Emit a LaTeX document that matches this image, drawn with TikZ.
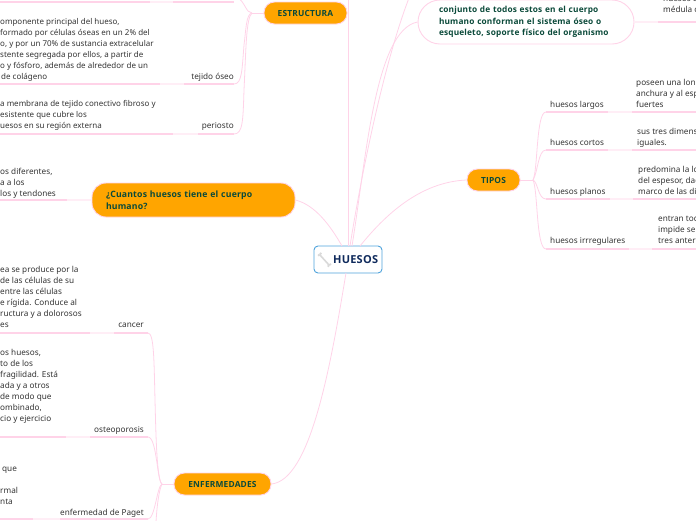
\documentclass[tikz,border=0pt]{standalone}
\usepackage{fontspec}
\setmainfont{Noto Sans}
\newfontfamily\negrita{Open Sans}[BoldFeatures={LetterSpace=2}]
\definecolor{rosa}{HTML}{FFD3E8}
\definecolor{rosaclaro}{HTML}{FFEEF6}
\definecolor{naranja}{HTML}{FFA500}
\definecolor{verdeosc}{HTML}{0B4A3A}
\definecolor{azulosc}{HTML}{0F2A5C}
\definecolor{azulborde}{HTML}{4FA3DC}
\definecolor{gristxt}{HTML}{333333}
\tikzset{
  rama/.style={rosa,line width=0.8pt},
  raya/.style={rosa,line width=1.6pt},
  rayaclara/.style={rosaclaro,line width=1.6pt},
  tema/.style={draw=rosa,fill=naranja,rounded corners=10.5pt,line width=0.9pt,minimum height=22pt,inner sep=0pt,text=verdeosc,font=\fontsize{8.4}{11.5}\selectfont\negrita\bfseries},
  texto/.style={inner sep=0pt,text depth=0pt,anchor=south west,align=left,yshift=-0.8pt,text=gristxt,font=\fontsize{8.2}{11}\selectfont},
  textochico/.style={texto,font=\fontsize{8}{11}\selectfont},
  etiqueta/.style={inner sep=0pt,text depth=0pt,anchor=south east,yshift=-0.8pt,text=gristxt,font=\fontsize{8.2}{11}\selectfont},
  etiquetaizq/.style={etiqueta,anchor=south west},
}
\begin{document}
\begin{tikzpicture}[x=1pt,y=-1pt]
  \useasboundingbox (0,0) rectangle (696,520);
  \clip (0,0) rectangle (696,520);
  % nodo central
  \node[draw=azulborde,fill=white,rounded corners=4pt,line width=0.9pt,minimum width=68pt,minimum height=27pt,inner sep=0pt] (huesos) at (348,259.5) {};
  \node[anchor=base west,inner sep=0pt,text=azulosc,font=\fontsize{11}{12}\selectfont\negrita\bfseries] (huesostxt) at (333,263.5) {HUESOS};
  % icono del hueso
  \draw[black!15,line width=1.6pt,line cap=round] (320,255)--(329,265);
  \fill[black!15] (318.8,255.2) circle (1.3) (320.6,253.6) circle (1.3) (328.4,266) circle (1.3) (330.2,264.4) circle (1.3);
  % temas
  \node[tema,minimum width=83pt] (estructura) at (305.5,13) {ESTRUCTURA};
  \node[tema,minimum width=53pt] (tipos) at (493.5,180) {TIPOS};
  \node[tema,minimum width=97pt] (enfermedades) at (222.5,484) {ENFERMEDADES};
  \node[tema,minimum width=203pt,minimum height=34pt,rounded corners=14pt,text width=175pt,align=left,font=\fontsize{8.7}{12}\selectfont\negrita\bfseries] (cuantos) at (193.5,200) {¿Cuantos huesos tiene el cuerpo\\humano?};
  \node[draw=rosa,fill=white,rounded corners=22pt,line width=0.9pt,minimum width=216pt,minimum height=44pt,inner sep=0pt,text width=174pt,align=left,text=verdeosc,font=\fontsize{8.3}{11.5}\selectfont\negrita\bfseries] (conjunto) at (526,22) {conjunto de todos estos en el cuerpo\\humano conforman el sistema óseo o\\esqueleto, soporte físico del organismo};
  % lineas del centro a los temas
  \coordinate (arriba) at (409,-2);
  \coordinate (arribab) at (348,-2);
  \draw[rama] (huesos.north) -- (arribab);
  \draw[rama] (350,246) .. controls (362,170) and (385,60) .. (arriba);
  \draw[rama] (352,246) .. controls (366,160) and (375,30) .. (conjunto.west);
  \draw[rama] (cuantos.east) .. controls (315,205) and (330,225) .. (342,246);
  \draw[rama] (tipos.west) .. controls (420,182) and (385,215) .. (360,246);
  \draw[rama] (enfermedades.east) .. controls (310,480) and (330,370) .. (346,273);
  % estructura
  \coordinate (estr) at (252,13);
  \coordinate (tejfin) at (234,84);
  \coordinate (perfin) at (234,134);
  \draw[rama] (estructura.west) -- (estr);
  \draw[rama] (estr) .. controls (246,13) and (245,2) .. (238,-2);
  \draw[rama] (estr) .. controls (246,14) and (246,30) .. (244,45) .. controls (242,70) and (242,84) .. (tejfin);
  \draw[rama] (estr) .. controls (246,18) and (246,50) .. (244,90) .. controls (243,120) and (243,134) .. (perfin);
  \draw[raya] (0,2) -- (150,2);
  \draw[rayaclara] (150,2) -- (173,2);
  \draw[raya] (173,2) -- (234,2);
  \draw[raya] (0,84) -- (160,84);
  \draw[rayaclara] (160,84) -- (184,84);
  \draw[raya] (184,84) -- (tejfin);
  \draw[raya] (0,134) -- (173,134);
  \draw[rayaclara] (173,134) -- (198,134);
  \draw[raya] (198,134) -- (perfin);
  \node[textochico] (teloseo) at (0,79) {omponente principal del hueso,\\formado por células óseas en un 2\% del\\o, y por un 70\% de sustancia extracelular\\stente segregada por ellos, a partir de\\o y fósforo, además de alrededor de un\\\hspace*{1pt}de colágeno};
  \node[etiqueta] (tejido) at (234,79) {tejido óseo};
  \node[textochico] (telperi) at (0,128) {a membrana de tejido conectivo fibroso y\\esistente que cubre los\\uesos en su región externa};
  \node[etiqueta] (periosto) at (234,128) {periosto};
  % cuantos
  \coordinate (cuanfin) at (67,200);
  \draw[raya] (0,200) -- (cuanfin);
  \draw[rayaclara] (cuanfin) -- (cuantos.west);
  \node[texto] (telcuan) at (0,196) {os diferentes,\\a a los\\los y tendones};
  % tipos
  \coordinate (tip) at (533,180);
  \draw[rama] (tipos.east) -- (tip);
  \coordinate (larini) at (546,112);
  \coordinate (corini) at (546,150);
  \coordinate (plaini) at (546,199);
  \coordinate (irrini) at (546,249);
  \draw[rama] (tip) .. controls (538,170) and (536,112) .. (larini);
  \draw[rama] (tip) .. controls (538,172) and (538,150) .. (corini);
  \draw[rama] (tip) .. controls (538,182) and (538,199) .. (plaini);
  \draw[rama] (tip) .. controls (538,190) and (536,249) .. (irrini);
  \draw[raya] (larini) -- (608,112);
  \draw[rayaclara] (608,112) -- (632,112);
  \draw[raya] (632,112) -- (696,112);
  \draw[raya] (corini) -- (608,150);
  \draw[rayaclara] (608,150) -- (632,150);
  \draw[raya] (632,150) -- (696,150);
  \draw[raya] (plaini) -- (610,199);
  \draw[rayaclara] (610,199) -- (633,199);
  \draw[raya] (633,199) -- (696,199);
  \draw[raya] (irrini) -- (629,249);
  \draw[rayaclara] (629,249) -- (652,249);
  \draw[raya] (652,249) -- (696,249);
  \node[etiquetaizq] (largos) at (550,106.5) {huesos largos};
  \node[etiquetaizq] (cortos) at (550,144.5) {huesos cortos};
  \node[etiquetaizq] (planos) at (550,194) {huesos planos};
  \node[etiquetaizq] (irreg) at (550,243) {huesos irrregulares};
  \node[texto] (tellar) at (636,106.5) {poseen una lon\\anchura y al esp\\fuertes};
  \node[texto] (telcor) at (637,144.5) {sus tres dimens\\iguales.};
  \node[texto] (telpla) at (638,194) {predomina la lo\\del espesor, dad\\marco de las dis};
  \node[texto] (telirr) at (658,243) {entran tod\\impide ser\\tres anteri};
  % conjunto
  \coordinate (conjfin) at (658,22);
  \draw[rayaclara] (conjunto.east) -- (conjfin);
  \draw[raya] (conjfin) -- (696,22);
  \node[texto] (telmed) at (663,12) {huesos d\\médula ó};
  % enfermedades
  \coordinate (enf) at (162,484);
  \coordinate (canfin) at (148,333);
  \coordinate (osteofin) at (148,437);
  \coordinate (pagfin) at (148,519);
  \draw[rama] (enfermedades.west) -- (enf);
  \draw[rama] (enf) .. controls (157,480) and (156,440) .. (155,400) .. controls (154,360) and (154,333) .. (canfin);
  \draw[rama] (enf) .. controls (157,482) and (157,437) .. (osteofin);
  \draw[rama] (enf) .. controls (157,486) and (155,519) .. (pagfin);
  \draw[rama] (enf) .. controls (159,490) and (157,505) .. (156,522);
  \draw[raya] (0,333) -- (90,333);
  \draw[rayaclara] (90,333) -- (114,333);
  \draw[raya] (114,333) -- (canfin);
  \draw[raya] (0,437) -- (66,437);
  \draw[rayaclara] (66,437) -- (90,437);
  \draw[raya] (90,437) -- (osteofin);
  \draw[raya] (0,519) -- (33,519);
  \draw[rayaclara] (33,519) -- (60,519);
  \draw[raya] (60,519) -- (pagfin);
  \node[texto] (telcan) at (0,327) {ea se produce por la\\de las células de su\\entre las células\\e rígida. Conduce al\\ructura y a dolorosos\\es};
  \node[etiqueta] (cancer) at (144,327) {cancer};
  \node[texto] (telost) at (0,421) {os huesos,\\to de los\\ fragilidad. Está\\ada y a otros\\de modo que\\ombinado,\\cio y ejercicio};
  \node[etiqueta] (osteo) at (144,432) {osteoporosis};
  \node[texto] (telpag) at (2,471) {que};
  \node[texto] (telpagb) at (0,504) {rmal\\nta};
  \node[etiqueta] (paget) at (144,515) {enfermedad de Paget};
\end{tikzpicture}
\end{document}
